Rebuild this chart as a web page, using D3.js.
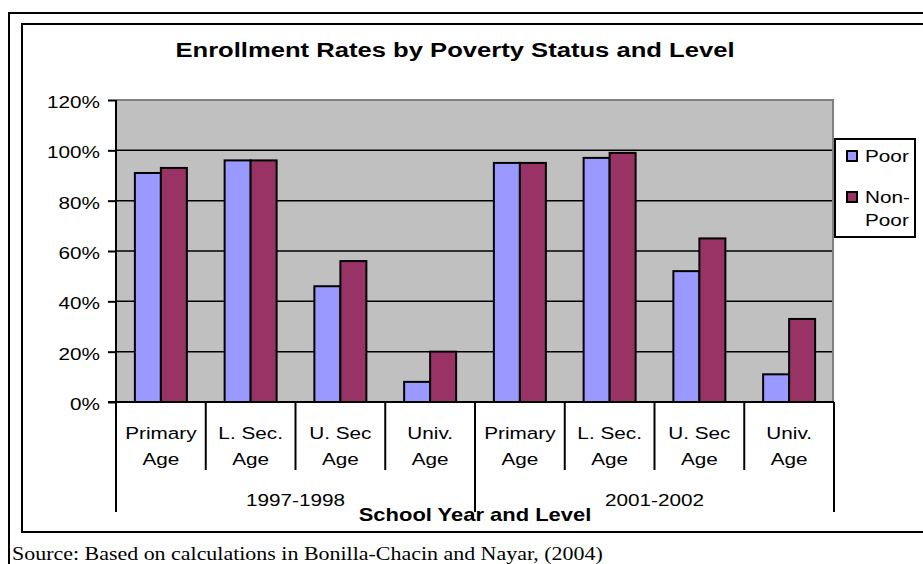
<!DOCTYPE html>
<html>
<head>
<meta charset="utf-8">
<script src="https://cdn.jsdelivr.net/npm/d3@7"></script>
<style>
  html, body { margin: 0; padding: 0; background: #fff; }
  svg { display: block; }
  text { font-family: "Liberation Sans", Arial, sans-serif; fill: #000; }
</style>
</head>
<body>
<svg id="chart" width="923" height="564"></svg>
<script>
// Enrollment rates (share of age group enrolled), by school year and level
const years = ["1997-1998", "2001-2002"];
const levels = [["Primary", "Age"], ["L. Sec.", "Age"], ["U. Sec", "Age"], ["Univ.", "Age"]];
const seriesNames = ["Poor", "Non-Poor"];
const poor    = [0.91, 0.96, 0.46, 0.08, 0.95, 0.97, 0.52, 0.11];
const nonPoor = [0.93, 0.96, 0.56, 0.20, 0.95, 0.99, 0.65, 0.33];
const yTicks = [0, 0.2, 0.4, 0.6, 0.8, 1.0, 1.2];
const colors = ["#9999FF", "#993366"];

const title = "Enrollment Rates by Poverty Status and Level";
const xTitle = "School Year and Level";
const source = "Source: Based on calculations in Bonilla-Chacin and Nayar, (2004)";

// one entry per (year, level) slot
const cats = [];
years.forEach((yr, yi) => levels.forEach((lv, li) => cats.push({ key: yi + "-" + li, year: yr, lines: lv })));
const rows = cats.map((c, i) => ({ key: c.key, values: [poor[i], nonPoor[i]] }));

const svg = d3.select("#chart");
const SX = 1.22; // glyphs are drawn slightly wide

function label(g, x, y, str, size, anchor, weight, family) {
  const t = g.append("text")
    .attr("transform", `translate(${x},${y}) scale(${SX},1)`)
    .attr("font-size", size)
    .attr("text-anchor", anchor || "start")
    .text(str);
  if (weight) t.attr("font-weight", weight);
  if (family) t.style("font-family", family);
  return t;
}

// frames
svg.append("path").attr("d", "M9,564 V13 H923").attr("fill", "none").attr("stroke", "#000").attr("stroke-width", 2);
svg.append("rect").attr("x", 22).attr("y", 24).attr("width", 920).attr("height", 508)
  .attr("fill", "#fff").attr("stroke", "#000").attr("stroke-width", 2);

// scales
const plot = { left: 116, right: 834, top: 100, bottom: 402 };
const x = d3.scaleBand().domain(cats.map(c => c.key)).range([plot.left, plot.right]).padding(0);
const xs = d3.scaleBand().domain(seriesNames).range([0, x.bandwidth()]).paddingInner(0).paddingOuter(0.726);
const y = d3.scaleLinear().domain([0, 1.2]).range([plot.bottom, plot.top]);

// plot background
svg.append("rect").attr("x", plot.left).attr("y", plot.top)
  .attr("width", plot.right - plot.left - 1).attr("height", plot.bottom - plot.top)
  .attr("fill", "#C0C0C0");
svg.append("path").attr("d", `M${plot.left},${plot.top} H${plot.right - 1} V${plot.bottom}`)
  .attr("fill", "none").attr("stroke", "#808080").attr("stroke-width", 2);

// gridlines
svg.append("g").selectAll("line").data(yTicks.filter(v => v > 0 && v < 1.2)).join("line")
  .attr("x1", plot.left).attr("x2", plot.right - 2)
  .attr("y1", d => y(d)).attr("y2", d => y(d))
  .attr("stroke", "#000").attr("stroke-width", 1.5);

// bars
const groups = svg.append("g").selectAll("g").data(rows).join("g")
  .attr("transform", d => `translate(${x(d.key)},0)`);
groups.selectAll("rect").data(d => d.values.map((v, i) => ({ name: seriesNames[i], v, i }))).join("rect")
  .attr("x", d => xs(d.name))
  .attr("width", xs.bandwidth())
  .attr("y", d => y(d.v))
  .attr("height", d => y(0) - y(d.v))
  .attr("fill", d => colors[d.i])
  .attr("stroke", "#000")
  .attr("stroke-width", 2);

// y axis
const yAxis = d3.axisLeft(y).tickValues(yTicks).tickFormat(d3.format(".0%")).tickSize(8).tickPadding(0);
const ya = svg.append("g").attr("transform", `translate(${plot.left},0)`).call(yAxis);
ya.select(".domain").remove();
ya.selectAll(".tick line").attr("stroke", "#000").attr("stroke-width", 2);
ya.selectAll(".tick text").remove();
yTicks.forEach(v => label(svg, 100, y(v) + 8, d3.format(".0%")(v), 17, "end"));
svg.append("line").attr("x1", plot.left).attr("x2", plot.left).attr("y1", plot.top).attr("y2", plot.bottom + 110)
  .attr("stroke", "#000").attr("stroke-width", 2);
svg.append("line").attr("x1", plot.left - 8).attr("x2", plot.right).attr("y1", plot.bottom).attr("y2", plot.bottom)
  .attr("stroke", "#000").attr("stroke-width", 2);

// category dividers: short between levels, long between years
const bounds = d3.range(cats.length + 1).map(i => plot.left + i * x.step());
bounds.forEach((bx, i) => {
  const long = i % levels.length === 0;
  svg.append("line").attr("x1", bx).attr("x2", bx)
    .attr("y1", plot.bottom).attr("y2", plot.bottom + (long ? 110 : 68))
    .attr("stroke", "#000").attr("stroke-width", 2);
});

// category labels
cats.forEach(c => {
  const cx = x(c.key) + x.bandwidth() / 2;
  label(svg, cx, 439, c.lines[0], 17, "middle");
  label(svg, cx, 465, c.lines[1], 17, "middle");
});
years.forEach((yr, yi) => {
  const x0 = bounds[yi * levels.length], x1 = bounds[(yi + 1) * levels.length];
  label(svg, (x0 + x1) / 2, 506, yr, 17, "middle");
});

// titles
label(svg, 455, 57, title, 21, "middle", "bold");
label(svg, 475, 521, xTitle, 18, "middle", "bold");

// legend
const lg = svg.append("g");
lg.append("rect").attr("x", 835).attr("y", 139).attr("width", 80).attr("height", 98)
  .attr("fill", "#fff").attr("stroke", "#000").attr("stroke-width", 2);
const legendRows = [{ lines: ["Poor"], y: 162 }, { lines: ["Non-", "Poor"], y: 203 }];
legendRows.forEach((r, i) => {
  lg.append("rect").attr("x", 847).attr("y", r.y - 11).attr("width", 10).attr("height", 10)
    .attr("fill", colors[i]).attr("stroke", "#000").attr("stroke-width", 2);
  r.lines.forEach((ln, j) => label(lg, 865, r.y + j * 23, ln, 17, "start"));
});

// source note
label(svg, 12, 560, source, 18, "start", null, "'Liberation Serif', 'Times New Roman', serif");
</script>
</body>
</html>
